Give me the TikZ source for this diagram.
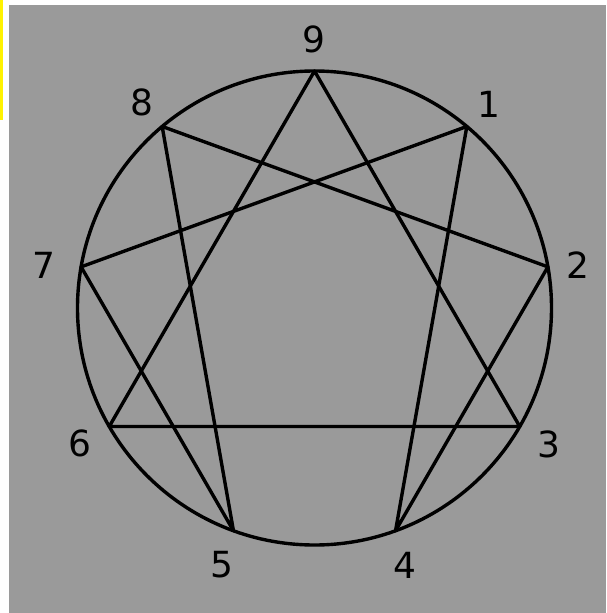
\documentclass[tikz,border=0pt]{standalone}
\usepackage{fontspec}
\setmainfont{DejaVu Sans}
\usetikzlibrary{calc}
\begin{document}
\begin{tikzpicture}[x=1pt,y=-1pt,
  lbl/.style={font=\fontsize{36}{36}\selectfont, inner sep=0pt, text=black},
  ln/.style={line width=3.4pt, black, line join=round, line cap=round}]
\useasboundingbox (0,0) rectangle (606,613);
\fill[white] (0,0) rectangle (606,613);
\fill[yellow] (0,0) rectangle (3,120);
\fill[fill={rgb,255:red,154;green,154;blue,154}] (9,5) rectangle (606,613);
\coordinate (c) at (314.5,308);
\draw[ln] (c) circle (237);
\foreach \k in {1,...,9} {
  \coordinate (p\k) at ($(c)+({237*cos(90-40*\k)},{-237*sin(90-40*\k)})$);
}
\draw[ln] (p1) -- (p4) -- (p2) -- (p8) -- (p5) -- (p7) -- cycle;
\draw[ln] (p3) -- (p6) -- (p9) -- cycle;
\node[lbl] (l9) at (314,39) {9};
\node[lbl] (l1) at (489,104) {1};
\node[lbl] (l2) at (578,265) {2};
\node[lbl] (l3) at (549,444) {3};
\node[lbl] (l4) at (405,565) {4};
\node[lbl] (l5) at (222,565) {5};
\node[lbl] (l6) at (80,443) {6};
\node[lbl] (l7) at (44,265) {7};
\node[lbl] (l8) at (142,102) {8};
\end{tikzpicture}
\end{document}
